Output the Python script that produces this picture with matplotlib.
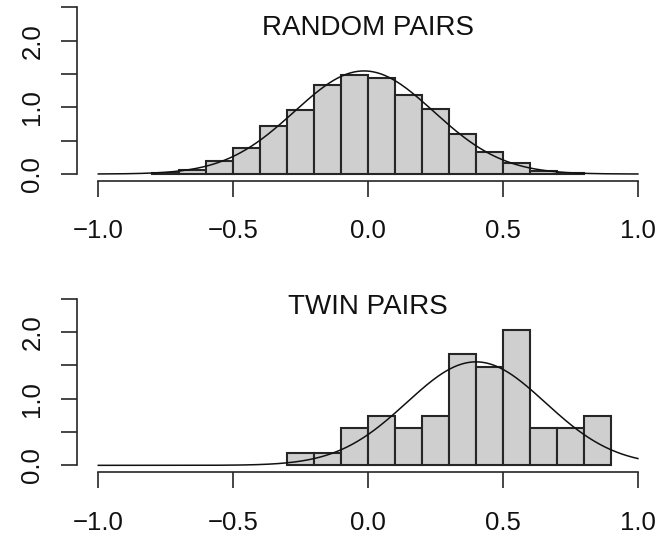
import matplotlib
matplotlib.use("Agg")
import matplotlib.pyplot as plt
import numpy as np

plt.rcParams['font.family'] = ['Liberation Sans', 'DejaVu Sans']

# histogram bins (left edges, width 0.1) and densities
random_left = [-0.8, -0.7, -0.6, -0.5, -0.4, -0.3, -0.2, -0.1,
               0.0, 0.1, 0.2, 0.3, 0.4, 0.5, 0.6, 0.7]
random_density = [0.02, 0.065, 0.19, 0.385, 0.725, 0.955, 1.33, 1.485,
                  1.435, 1.18, 0.97, 0.60, 0.33, 0.16, 0.04, 0.015]

twin_left = [-0.3, -0.2, -0.1, 0.0, 0.1, 0.2, 0.3, 0.4, 0.5, 0.6, 0.7, 0.8]
twin_density = [0.185, 0.185, 0.556, 0.741, 0.556, 0.741,
                1.667, 1.481, 2.037, 0.556, 0.556, 0.741]

# fitted normal curves (mean, sd)
random_fit = (-0.015, 0.258)
twin_fit = (0.40, 0.257)

bin_width = 0.1
x_ticks = [-1.0, -0.5, 0.0, 0.5, 1.0]
x_labels = ['\u22121.0', '\u22120.5', '0.0', '0.5', '1.0']
y_ticks = [0.0, 0.5, 1.0, 1.5, 2.0, 2.5]
y_labels = ['0.0', '', '1.0', '', '2.0', '']

dark = '#262626'


def panel(ax, left, dens, fit, title, title_y):
    ax.bar(left, dens, width=bin_width, align='edge', color='#cfcfcf',
           edgecolor=dark, linewidth=1.5, zorder=2)
    xs = np.linspace(-1, 1, 400)
    m, s = fit
    ys = np.exp(-0.5 * ((xs - m) / s) ** 2) / (s * np.sqrt(2 * np.pi))
    ax.plot(xs, ys, color='#111111', linewidth=1.1, zorder=3)

    ax.set_xlim(-1.08, 1.08)
    ax.set_ylim(-0.1, 2.6)
    for side in ['top', 'right']:
        ax.spines[side].set_visible(False)
    ax.spines['left'].set_bounds(0, 2.5)
    ax.spines['bottom'].set_bounds(-1, 1)
    for side in ['left', 'bottom']:
        ax.spines[side].set_linewidth(1.2)
        ax.spines[side].set_color(dark)

    ax.set_xticks(x_ticks)
    ax.set_xticklabels(x_labels)
    ax.set_yticks(y_ticks)
    ax.set_yticklabels(y_labels, rotation=90, va='center')
    ax.tick_params(axis='both', direction='out', length=11.3, width=1.2,
                   color=dark, labelsize=18.5, labelcolor='#111111')
    ax.tick_params(axis='x', pad=16.5)
    ax.tick_params(axis='y', pad=12)

    ax.text(0.0, title_y, title, ha='center', va='center', fontsize=20,
            color='#111111')


fig = plt.figure(figsize=(6.59, 5.36), dpi=100)
ax1 = fig.add_axes([0.1164, 0.6629, 0.8843, 0.3358])
ax2 = fig.add_axes([0.1164, 0.1194, 0.8843, 0.3358])

panel(ax1, random_left, random_density, random_fit, 'RANDOM PAIRS', 2.185)
panel(ax2, twin_left, twin_density, twin_fit, 'TWIN PAIRS', 2.375)

fig.savefig('out.png', dpi=100)
